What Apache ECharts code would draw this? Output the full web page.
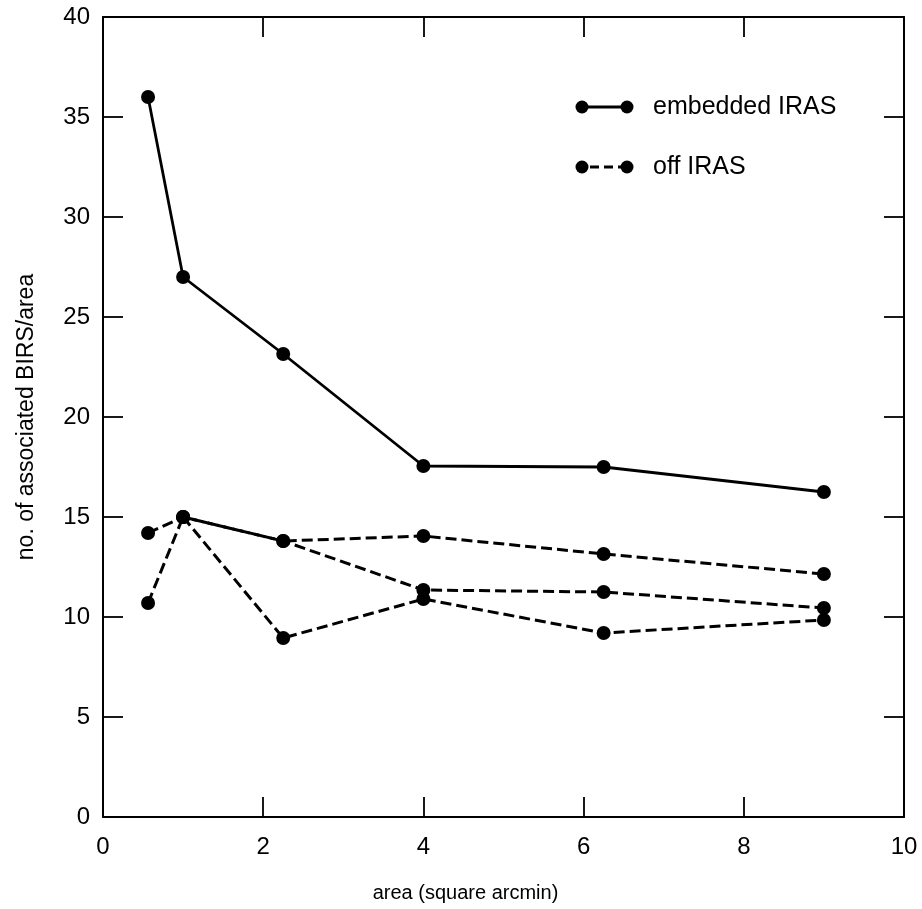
<!DOCTYPE html>
<html>
<head>
<meta charset="utf-8">
<title>BIRS per area</title>
<script src="https://cdn.jsdelivr.net/npm/echarts@6/dist/echarts.min.js"></script>
<style>
  html, body { margin: 0; padding: 0; background: #fff; }
  #chart { width: 922px; height: 909px; }
</style>
</head>
<body>
<div id="chart"></div>
<script>
// area (square arcmin) for each beam size
const areaX = [0.5625, 1, 2.25, 4, 6.25, 9];
// no. of associated BIRS / area
const embedded = [36, 27, 23.15, 17.55, 17.5, 16.25];
const offA = [14.2, 15, 13.8, 14.05, 13.15, 12.15];
const offB = [10.7, 15, 13.8, 11.35, 11.25, 10.45];
const offC = [null, 15, 8.95, 10.9, 9.2, 9.85];
const legendNames = ['embedded IRAS', 'off IRAS'];

const FONT = '"Liberation Sans", Arial, Helvetica, sans-serif';

function pairs(ys) {
  return areaX.map((x, i) => [x, ys[i]]).filter(p => p[1] != null);
}

function lineSeries(ys, dashed) {
  return {
    type: 'line',
    data: pairs(ys),
    symbol: 'circle',
    symbolSize: 14,
    itemStyle: { color: '#000' },
    lineStyle: {
      color: '#000',
      width: dashed ? 3 : 2.8,
      type: dashed ? [11, 5] : 'solid'
    },
    z: dashed ? 2 : 3
  };
}

const axisLine = { show: true, onZero: false, lineStyle: { color: '#000', width: 2 } };
const tick = { show: true, inside: true, length: 20, lineStyle: { color: '#000', width: 1.8 } };

const chart = echarts.init(document.getElementById('chart'));
chart.setOption({
  animation: false,
  backgroundColor: '#fff',
  grid: { left: 103, right: 18, top: 17, bottom: 92 },
  xAxis: [{
    type: 'value',
    min: 0,
    max: 10,
    interval: 2,
    position: 'bottom',
    axisLine: axisLine,
    axisTick: tick,
    splitLine: { show: false },
    axisLabel: { color: '#000', fontSize: 24, fontFamily: FONT, margin: 18 },
    name: 'area (square arcmin)',
    nameLocation: 'middle',
    nameGap: 66,
    nameTextStyle: { color: '#000', fontSize: 20, fontFamily: FONT, padding: [0, 76, 0, 0] }
  }, {
    type: 'value',
    min: 0,
    max: 10,
    interval: 2,
    position: 'top',
    axisLine: axisLine,
    axisTick: tick,
    splitLine: { show: false },
    axisLabel: { show: false }
  }],
  yAxis: [{
    type: 'value',
    min: 0,
    max: 40,
    interval: 5,
    position: 'left',
    axisLine: axisLine,
    axisTick: tick,
    splitLine: { show: false },
    axisLabel: { color: '#000', fontSize: 24, fontFamily: FONT, margin: 13 },
    name: 'no. of associated BIRS/area',
    nameLocation: 'middle',
    nameGap: 65,
    nameTextStyle: { color: '#000', fontSize: 23, fontFamily: FONT }
  }, {
    type: 'value',
    min: 0,
    max: 40,
    interval: 5,
    position: 'right',
    axisLine: axisLine,
    axisTick: tick,
    splitLine: { show: false },
    axisLabel: { show: false }
  }],
  series: [
    Object.assign(lineSeries(embedded, false), { name: legendNames[0] }),
    Object.assign(lineSeries(offA, true), { name: legendNames[1] }),
    Object.assign(lineSeries(offB, true), { name: legendNames[1] }),
    Object.assign(lineSeries(offC, true), { name: legendNames[1] })
  ],
  // hand-drawn key: dot-line-dot like the original figure
  graphic: [
    { type: 'line', shape: { x1: 582, y1: 107, x2: 627, y2: 107 }, style: { stroke: '#000', lineWidth: 3 } },
    { type: 'circle', shape: { cx: 582, cy: 107, r: 6.5 }, style: { fill: '#000' } },
    { type: 'circle', shape: { cx: 627, cy: 107, r: 6.5 }, style: { fill: '#000' } },
    { type: 'text', x: 653, y: 107, style: { text: legendNames[0], fill: '#000', font: '25px ' + FONT, verticalAlign: 'middle' } },
    { type: 'line', shape: { x1: 590, y1: 167, x2: 621, y2: 167 }, style: { stroke: '#000', lineWidth: 3, lineDash: [9, 5] } },
    { type: 'circle', shape: { cx: 582, cy: 167, r: 6.5 }, style: { fill: '#000' } },
    { type: 'circle', shape: { cx: 627, cy: 167, r: 6.5 }, style: { fill: '#000' } },
    { type: 'text', x: 653, y: 167, style: { text: legendNames[1], fill: '#000', font: '25px ' + FONT, verticalAlign: 'middle' } }
  ]
});
</script>
</body>
</html>
